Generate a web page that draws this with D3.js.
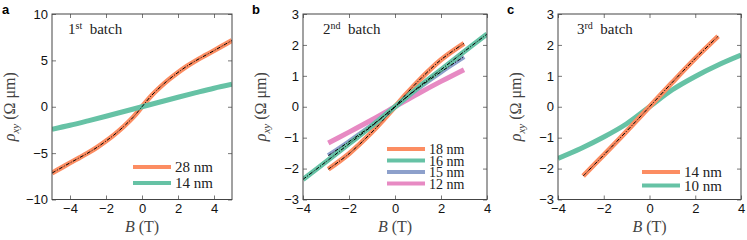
<!DOCTYPE html>
<html>
<head>
<meta charset="utf-8">
<script src="https://cdn.jsdelivr.net/npm/d3@7"></script>
<style>
  body { margin: 0; background: #fff; }
  .tick text { font-family: "Liberation Sans", Arial, sans-serif; font-size: 13px; fill: #111; }
  .serif { font-family: "Liberation Serif", "DejaVu Serif", serif; }
</style>
</head>
<body>
<script>
// panel a, 1st batch
var bA28 = [-5,-4.5,-4,-3.5,-3,-2.5,-2,-1.5,-1,-0.5,0,0.5,1,1.5,2,2.5,3,3.5,4,4.5,5];
var rA28 = [-7.15,-6.6,-6.05,-5.52,-4.98,-4.38,-3.7,-2.95,-2.1,-1.15,0,1.15,2.1,2.95,3.7,4.38,4.98,5.52,6.05,6.6,7.15];
var bA14 = [-5,-4,-3,-2,-1,0,1,2,3,4,5];
var rA14 = [-2.42,-2.0,-1.52,-1.02,-0.51,0,0.51,1.02,1.52,2.0,2.42];

// panel b, 2nd batch
var bB18 = [-2.9,-2,-1,-0.5,0,0.5,1,2,3];
var rB18 = [-2.02,-1.52,-0.82,-0.42,0,0.42,0.82,1.52,2.05];
var bB16 = [-4,-3,-2,-1,0,1,2,3,4];
var rB16 = [-2.35,-1.78,-1.2,-0.62,0,0.62,1.2,1.78,2.35];
var bB15 = [-2.9,-2,-1,0,1,2,3];
var rB15 = [-1.58,-1.13,-0.6,0,0.6,1.13,1.62];
var bB12 = [-2.9,-2,-1,0,1,2,3];
var rB12 = [-1.17,-0.82,-0.42,0,0.42,0.82,1.2];

// panel c, 3rd batch
var bC14 = [-2.9,-2,-1,0,1,2,3];
var rC14 = [-2.24,-1.56,-0.79,0,0.79,1.56,2.28];
var bC10 = [-4,-3,-2,-1,0,1,2,3,4];
var rC10 = [-1.67,-1.35,-0.98,-0.55,0,0.55,0.98,1.35,1.67];

var xTicksA = [-4,-2,0,2,4], yTicksA = [-10,-5,0,5,10];
var xTicksBC = [-4,-2,0,2,4], yTicksBC = [-3,-2,-1,0,1,2,3];

var orange = "#fc8d62", green = "#66c2a5", blue = "#8da0cb", pink = "#e78ac3";

function zip(bs, rs) { return bs.map(function(b, i){ return [b, rs[i]]; }); }

var panels = [
  {letter: "a", lx: 2, left: 52, right: 232, xdom: [-5,5], ydom: [-10,10], xt: xTicksA, yt: yTicksA,
   ord: "1", sup: "st", tx: 68, legX: 133, legFont: 15,
   series: [
     {name: "28 nm", pts: zip(bA28, rA28), color: orange, fit: true},
     {name: "14 nm", pts: zip(bA14, rA14), color: green, fit: false}
   ], legY: [167, 183]},
  {letter: "b", lx: 252, left: 303, right: 487, xdom: [-4,4], ydom: [-3,3], xt: xTicksBC, yt: yTicksBC,
   ord: "2", sup: "nd", tx: 323, legX: 387, legFont: 14,
   series: [
     {name: "12 nm", pts: zip(bB12, rB12), color: pink, fit: false},
     {name: "15 nm", pts: zip(bB15, rB15), color: blue, fit: true},
     {name: "18 nm", pts: zip(bB18, rB18), color: orange, fit: true},
     {name: "16 nm", pts: zip(bB16, rB16), color: green, fit: true}
   ], legOrder: [2,3,1,0], legY: [149, 160.5, 172, 183.5]},
  {letter: "c", lx: 507, left: 558, right: 741, xdom: [-4,4], ydom: [-3,3], xt: xTicksBC, yt: yTicksBC,
   ord: "3", sup: "rd", tx: 577, legX: 642, legFont: 15,
   series: [
     {name: "10 nm", pts: zip(bC10, rC10), color: green, fit: false},
     {name: "14 nm", pts: zip(bC14, rC14), color: orange, fit: true}
   ], legOrder: [1,0], legY: [172, 185.5]}
];

var yTop = 14, yBottom = 199.5;

var svg = d3.select("body").append("svg")
    .attr("width", 747).attr("height", 240)
    .style("background", "#fff");

panels.forEach(function(p){
  var x = d3.scaleLinear().domain(p.xdom).range([p.left, p.right]);
  var y = d3.scaleLinear().domain(p.ydom).range([yBottom, yTop]);
  var g = svg.append("g");

  // clip
  var cid = "clip-" + p.letter;
  svg.append("clipPath").attr("id", cid).append("rect")
     .attr("x", p.left).attr("y", yTop).attr("width", p.right - p.left).attr("height", yBottom - yTop);

  var line = d3.line().x(function(d){ return x(d[0]); }).y(function(d){ return y(d[1]); })
               .curve(d3.curveCatmullRom.alpha(0.5));

  var dg = g.append("g").attr("clip-path", "url(#" + cid + ")");
  p.series.forEach(function(s){
    dg.append("path").attr("d", line(s.pts)).attr("fill", "none")
      .attr("stroke", s.color).attr("stroke-width", 5).attr("stroke-linecap", "butt");
  });
  p.series.forEach(function(s){
    if (!s.fit) return;
    dg.append("path").attr("d", line(s.pts)).attr("fill", "none")
      .attr("stroke", "#000").attr("stroke-width", 1)
      .attr("stroke-dasharray", "4,1.5,1,1.5");
  });

  // axes with inward ticks on all sides
  var fmt = d3.format("");
  g.append("g").attr("transform", "translate(0," + yBottom + ")")
   .call(d3.axisBottom(x).tickValues(p.xt).tickSize(-4).tickPadding(4).tickFormat(fmt));
  g.append("g").attr("transform", "translate(0," + yTop + ")")
   .call(d3.axisTop(x).tickValues(p.xt).tickSize(-4).tickFormat(""));
  g.append("g").attr("transform", "translate(" + p.left + ",0)")
   .call(d3.axisLeft(y).tickValues(p.yt).tickSize(-4).tickPadding(4).tickFormat(fmt));
  g.append("g").attr("transform", "translate(" + p.right + ",0)")
   .call(d3.axisRight(y).tickValues(p.yt).tickSize(-4).tickFormat(""));
  g.selectAll(".domain").remove();
  g.selectAll(".tick line").attr("stroke", "#777");
  g.append("rect").attr("x", p.left).attr("y", yTop)
   .attr("width", p.right - p.left).attr("height", yBottom - yTop)
   .attr("fill", "none").attr("stroke", "#444").attr("stroke-width", 1);

  // panel letter
  svg.append("text").attr("x", p.lx).attr("y", 14)
     .style("font-family", "Liberation Sans, Arial, sans-serif")
     .style("font-weight", "bold").style("font-size", "13px").text(p.letter);

  // batch label
  var bt = svg.append("text").attr("class", "serif").attr("x", p.tx).attr("y", 34)
     .style("font-size", "15px").attr("fill", "#222");
  bt.append("tspan").text(p.ord);
  bt.append("tspan").attr("dy", -5).style("font-size", "10px").text(p.sup);
  bt.append("tspan").attr("dy", 5).text("\u00a0 batch");

  // axis labels
  var cx = (p.left + p.right) / 2;
  var xl = svg.append("text").attr("class", "serif").attr("x", cx).attr("y", 232)
     .attr("text-anchor", "middle").style("font-size", "16px").attr("fill", "#444");
  xl.append("tspan").style("font-style", "italic").text("B");
  xl.append("tspan").text(" (T)");

  var yl = svg.append("text").attr("class", "serif")
     .attr("transform", "translate(" + (p.left - 37) + "," + ((yTop + yBottom) / 2) + ") rotate(-90)")
     .attr("text-anchor", "middle").style("font-size", "16px").attr("fill", "#444");
  yl.append("tspan").style("font-style", "italic").text("\u03c1");
  yl.append("tspan").attr("dy", 4).style("font-style", "italic").style("font-size", "11px").text("xy");
  yl.append("tspan").attr("dy", -4).text(" (\u03a9 \u03bcm)");

  // legend
  var order = p.legOrder || p.series.map(function(d, i){ return i; });
  order.forEach(function(si, k){
    var s = p.series[si], ly = p.legY[k];
    svg.append("line").attr("x1", p.legX).attr("x2", p.legX + 38)
       .attr("y1", ly).attr("y2", ly).attr("stroke", s.color).attr("stroke-width", 4);
    svg.append("text").attr("class", "serif").attr("x", p.legX + 42).attr("y", ly + 5)
       .style("font-size", p.legFont + "px").attr("fill", "#222").text(s.name);
  });
});
</script>
</body>
</html>
